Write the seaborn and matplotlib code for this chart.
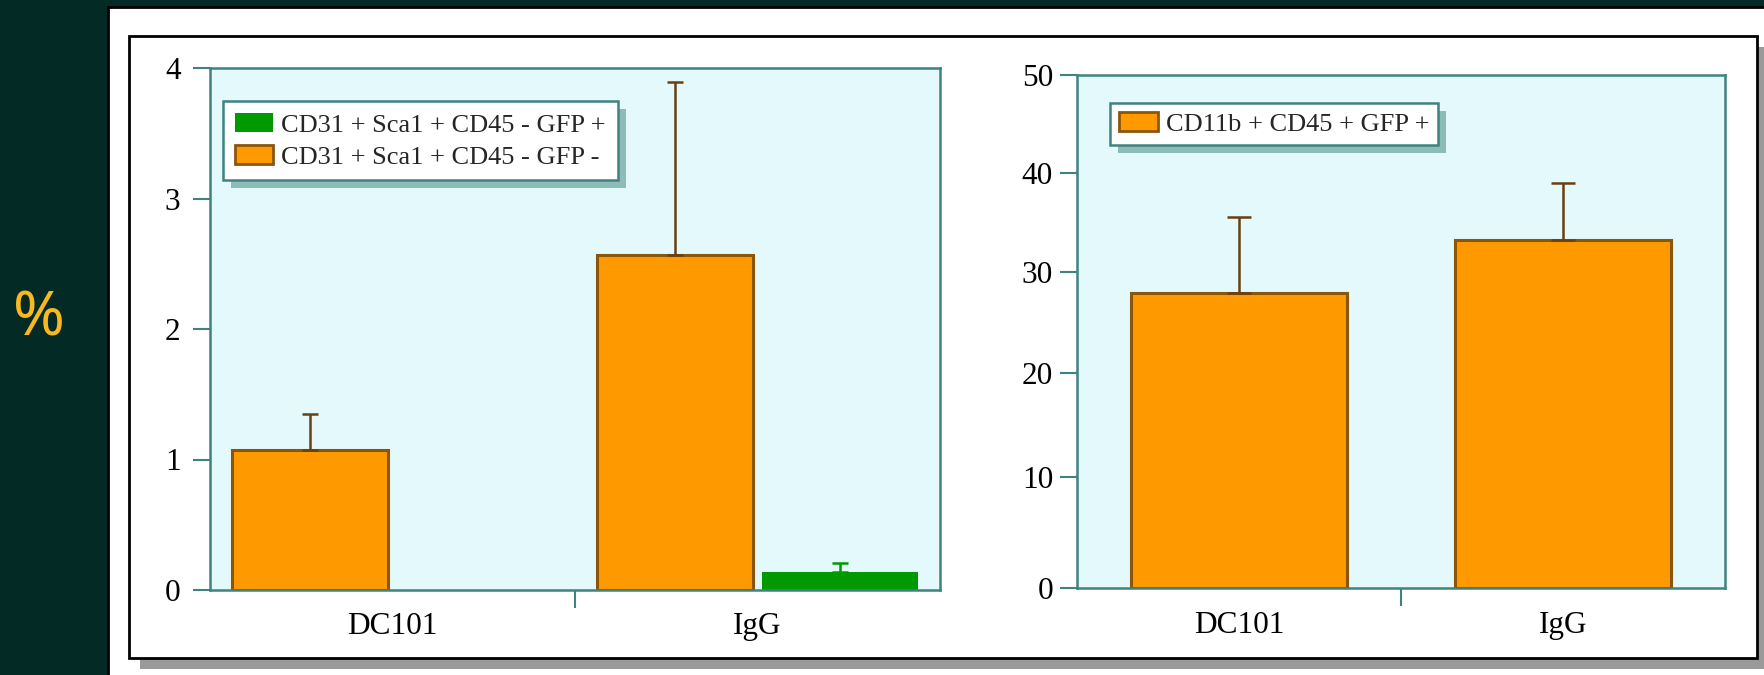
import numpy as np
import pandas as pd
import matplotlib
matplotlib.use("Agg")
import matplotlib.pyplot as plt
from matplotlib.patches import Rectangle, Patch
import seaborn as sns

# ---- data -------------------------------------------------------------
groups = ["DC101", "IgG"]
endo_labels = ["CD31 + Sca1 + CD45 - GFP -", "CD31 + Sca1 + CD45 - GFP +"]
endo_gfp_neg = [1.07, 2.57]
endo_gfp_neg_sem = [0.28, 1.32]
endo_gfp_pos = [0.0, 0.135]
endo_gfp_pos_sem = [0.0, 0.07]
myeloid_label = "CD11b + CD45 + GFP +"
myeloid_gfp_pos = [27.9, 33.2]
myeloid_gfp_pos_sem = [7.7, 5.8]
left_ticks = [0, 1, 2, 3, 4]
right_ticks = [0, 10, 20, 30, 40, 50]
y_unit = "%"

# ---- style ------------------------------------------------------------
W, H = 1765, 675
BG = "#032A24"
ORANGE = "#FF9900"
EDGE = "#8A560C"
ERR = "#6A3F10"
GREEN = "#009A00"
TEAL = "#3F8280"
FACE = "#E3F9FB"
SHADOW = "#8DBCB8"

sns.set_theme(style="ticks")
plt.rcParams["font.family"] = ["Liberation Serif", "DejaVu Serif"]

fig = plt.figure(figsize=(W / 100, H / 100), dpi=100, facecolor=BG)


def px_rect(x0, y0, x1, y1, **kw):
    """Rectangle given in figure pixels measured from the top-left corner."""
    return Rectangle((x0 / W, 1 - y1 / H), (x1 - x0) / W, (y1 - y0) / H,
                     transform=fig.transFigure, **kw)


fig.add_artist(px_rect(108, 7, W + 20, H + 20, facecolor="white",
                       edgecolor="black", lw=2, zorder=-10))
fig.add_artist(px_rect(140, 47, W + 20, 669, facecolor="#9A9A9A",
                       edgecolor="none", zorder=-9))
fig.add_artist(px_rect(129, 36, 1757, 658, facecolor="white",
                       edgecolor="black", lw=2, zorder=-8))

fig.text(39 / W, 1 - 320 / H, y_unit, color="#F8B820", fontsize=45,
         family="Noto Sans", ha="center", va="center")

ax1 = fig.add_axes([210 / W, 1 - 590 / H, 730 / W, 522 / H])
ax2 = fig.add_axes([1077 / W, 1 - 588.3 / H, 648 / W, 513.3 / H])


def style_axes(ax, ticks, ypad):
    ax.set_facecolor(FACE)
    for s in ax.spines.values():
        s.set_visible(True)
        s.set_color(TEAL)
        s.set_linewidth(1.8)
    ax.set_xlim(-0.5, 1.5)
    ax.set_ylim(ticks[0], ticks[-1])
    ax.set_yticks(ticks)
    ax.set_yticklabels([str(t) for t in ticks])
    ax.yaxis.set_minor_locator(matplotlib.ticker.NullLocator())
    ax.tick_params(axis="y", which="major", direction="out", length=12.2,
                   width=1.5, color=TEAL, labelsize=22.5, labelcolor="black",
                   pad=ypad)
    ax.set_xticks([0, 1])
    ax.set_xticklabels(groups)
    ax.tick_params(axis="x", which="major", length=0, pad=16,
                   labelsize=22.5, labelcolor="black")
    ax.set_xticks([0.5], minor=True)
    ax.tick_params(axis="x", which="minor", direction="out", length=13,
                   width=1.5, color=TEAL)
    ax.set_xlabel("")
    ax.set_ylabel("")
    ax.grid(False)


def add_errors(ax, bars, vals, errs, color, capsize):
    xs, ys, es = [], [], []
    for b, v, e in zip(bars, vals, errs):
        if e > 0:
            xs.append(b.get_x() + b.get_width() / 2)
            ys.append(v)
            es.append(e)
    ax.errorbar(xs, ys, yerr=[np.zeros(len(es)), es], fmt="none",
                ecolor=color, elinewidth=1.8, capsize=capsize,
                capthick=1.8, zorder=3)


# ---- left: endothelial progenitors ---------------------------------------
endo = pd.DataFrame({
    "group": groups * 2,
    "population": [endo_labels[0]] * 2 + [endo_labels[1]] * 2,
    "value": endo_gfp_neg + endo_gfp_pos,
})
sns.barplot(data=endo, x="group", y="value", hue="population",
            hue_order=endo_labels, palette=[ORANGE, GREEN], saturation=1,
            width=0.9, gap=0.05, errorbar=None, legend=False,
            linewidth=0, ax=ax1)
bar_sets = list(ax1.containers)
for b in bar_sets[0]:
    b.set_edgecolor(EDGE)
    b.set_linewidth(2.2)
add_errors(ax1, bar_sets[0], endo_gfp_neg, endo_gfp_neg_sem, ERR, 5.8)
add_errors(ax1, bar_sets[1], endo_gfp_pos, endo_gfp_pos_sem, GREEN, 6.0)
style_axes(ax1, left_ticks, 9)

# ---- right: myeloid cells -------------------------------------------------
sns.barplot(x=groups, y=myeloid_gfp_pos, color=ORANGE, saturation=1,
            width=0.665, errorbar=None, edgecolor=EDGE, linewidth=2.2, ax=ax2)
add_errors(ax2, list(ax2.containers)[0], myeloid_gfp_pos,
           myeloid_gfp_pos_sem, ERR, 8.6)
ax2.set_yscale("function", functions=(lambda v: np.sign(v) * np.abs(v) ** 0.95,
                                      lambda u: np.sign(u) * np.abs(u) ** (1 / 0.95)))
style_axes(ax2, right_ticks, 5)

# ---- legends with offset shadows ----------------------------------------
leg_kw = dict(loc="upper left", borderaxespad=0, prop={"size": 19},
              frameon=True, fancybox=False, framealpha=1, edgecolor=TEAL,
              facecolor="white", handlelength=1.46, handleheight=0.75,
              handletextpad=0.3, labelspacing=0.3, borderpad=0.45)
leg1 = ax1.legend(handles=[Patch(facecolor=GREEN, edgecolor=GREEN, lw=0),
                           Patch(facecolor=ORANGE, edgecolor=EDGE, lw=2)],
                  labels=[endo_labels[1], endo_labels[0]],
                  bbox_to_anchor=(13 / 730, 1 - 33 / 522), **leg_kw)
leg2 = ax2.legend(handles=[Patch(facecolor=ORANGE, edgecolor=EDGE, lw=2)],
                  labels=[myeloid_label],
                  bbox_to_anchor=(33 / 648, 1 - 27.7 / 513.3),
                  **{**leg_kw, "borderpad": 0.35})
for leg in (leg1, leg2):
    leg.get_frame().set_linewidth(1.8)

fig.canvas.draw()
for ax, leg in ((ax1, leg1), (ax2, leg2)):
    bb = leg.get_frame().get_window_extent().transformed(ax.transAxes.inverted())
    pw = 8 / ax.bbox.width
    ph = 8 / ax.bbox.height
    ax.add_patch(Rectangle((bb.x0 + pw, bb.y0 - ph), bb.width, bb.height,
                           transform=ax.transAxes, facecolor=SHADOW,
                           edgecolor="none", zorder=4.9, clip_on=False))

fig.savefig("out.png", dpi=100, facecolor=BG)
